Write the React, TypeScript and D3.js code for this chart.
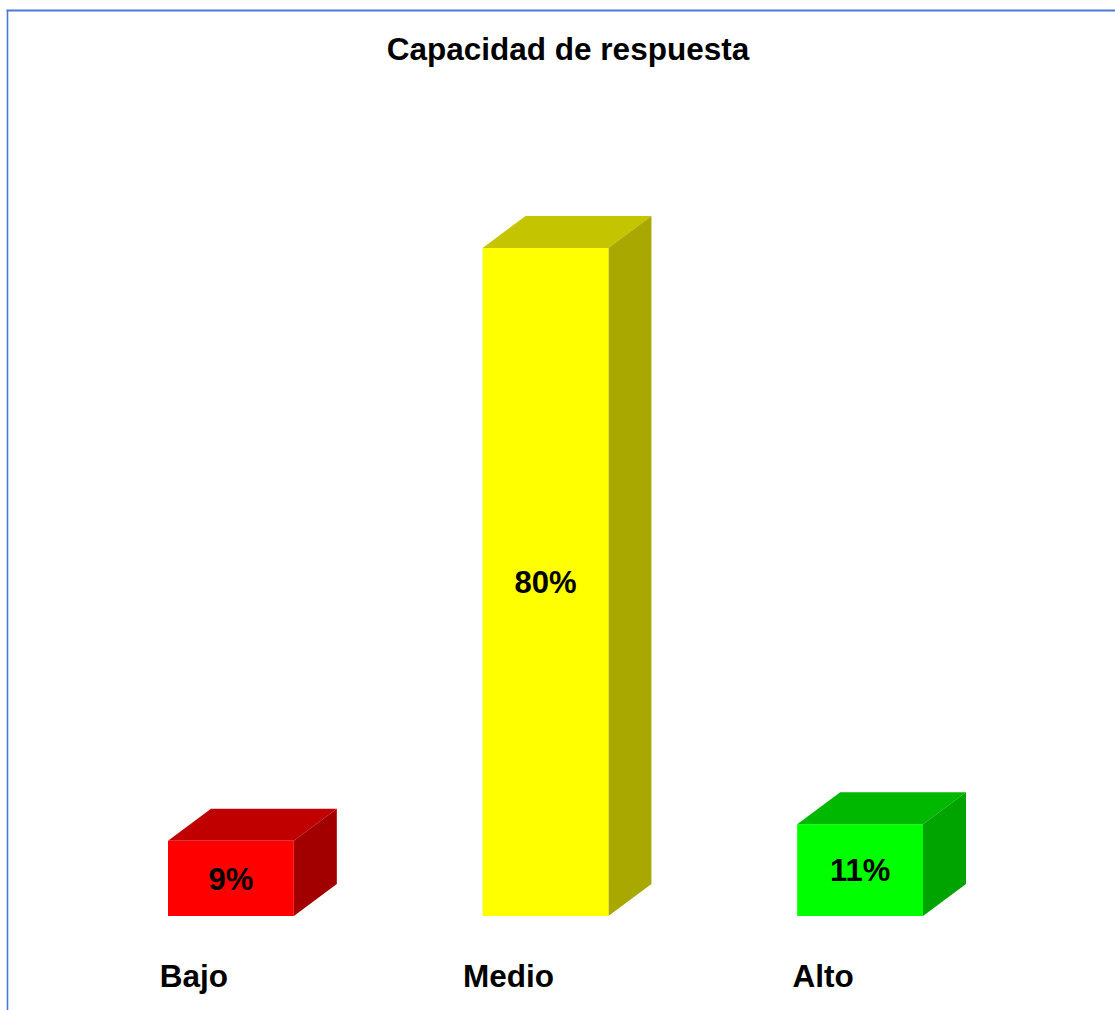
import * as d3 from 'd3';
import React, { useRef, useEffect } from 'react';

const categories = ['Bajo', 'Medio', 'Alto'];
const values = [9, 80, 11];
const valueLabels = ['9%', '80%', '11%'];
const frontColors = ['#ff0000', '#ffff00', '#00ff00'];
const topColors = ['#c00000', '#c4c400', '#00b800'];
const sideColors = ['#a20000', '#a8a800', '#00a400'];

const W = 1115;
const H = 1010;
const DX = 43; // depth offset of the 3d boxes
const DY = 32;
const FONT = 'Liberation Sans, Arial, sans-serif';

function App() {
  const ref = useRef<SVGSVGElement>(null);

  useEffect(() => {
    const svg = d3.select(ref.current);
    svg.selectAll('*').remove();

    const x = d3.scaleBand<string>()
      .domain(categories)
      .range([168, 923])
      .paddingInner(0.6)
      .paddingOuter(0);

    const y = d3.scaleLinear()
      .domain([0, 100])
      .range([916, 81]);

    // frame (only top and left edges are visible)
    svg.append('line')
      .attr('x1', 6.5).attr('y1', 10.5).attr('x2', W).attr('y2', 10.5)
      .attr('stroke', '#4a7ad8').attr('stroke-width', 2);
    svg.append('line')
      .attr('x1', 7.5).attr('y1', 10).attr('x2', 7.5).attr('y2', H)
      .attr('stroke', '#4a7ad8').attr('stroke-width', 1.6);

    svg.append('text')
      .attr('x', 568)
      .attr('y', 60)
      .attr('text-anchor', 'middle')
      .attr('font-family', FONT)
      .attr('font-weight', 'bold')
      .attr('font-size', 31.5)
      .text('Capacidad de respuesta');

    const g = svg.selectAll('g.bar')
      .data(values)
      .enter()
      .append('g')
      .attr('class', 'bar');

    const bw = x.bandwidth();

    // top face
    g.append('path')
      .attr('d', (d, i) => {
        const x0 = x(categories[i])!;
        const y0 = y(d);
        return `M${x0},${y0}L${x0 + DX},${y0 - DY}L${x0 + bw + DX},${y0 - DY}L${x0 + bw},${y0}Z`;
      })
      .attr('fill', (d, i) => topColors[i]);

    // side face
    g.append('path')
      .attr('d', (d, i) => {
        const x1 = x(categories[i])! + bw;
        const y0 = y(d);
        const yb = y(0);
        return `M${x1},${y0}L${x1 + DX},${y0 - DY}L${x1 + DX},${yb - DY}L${x1},${yb}Z`;
      })
      .attr('fill', (d, i) => sideColors[i]);

    // front face
    g.append('rect')
      .attr('x', (d, i) => x(categories[i])!)
      .attr('y', (d) => y(d))
      .attr('width', bw)
      .attr('height', (d) => y(0) - y(d))
      .attr('fill', (d, i) => frontColors[i]);

    g.append('text')
      .attr('x', (d, i) => x(categories[i])! + bw / 2)
      .attr('y', (d) => (y(d) + y(0)) / 2)
      .attr('dy', '0.36em')
      .attr('text-anchor', 'middle')
      .attr('font-family', FONT)
      .attr('font-weight', 'bold')
      .attr('font-size', 31)
      .text((d, i) => valueLabels[i]);

    svg.selectAll('text.cat')
      .data(categories)
      .enter()
      .append('text')
      .attr('class', 'cat')
      .attr('x', (d) => x(d)! + bw / 2 - 37)
      .attr('y', 987)
      .attr('text-anchor', 'middle')
      .attr('font-family', FONT)
      .attr('font-weight', 'bold')
      .attr('font-size', 31.5)
      .text((d) => d);
  }, []);

  return (
    <svg
      ref={ref}
      width={W}
      height={H}
      style={{ position: 'fixed', left: 0, top: 0, background: '#fff' }}
    />
  );
}

export default App;
